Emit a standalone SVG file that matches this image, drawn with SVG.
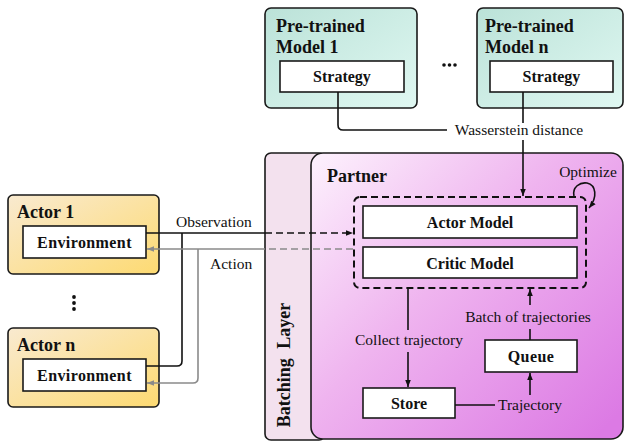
<svg xmlns="http://www.w3.org/2000/svg" width="625" height="442" viewBox="0 0 625 442">
<defs>
<linearGradient id="gTeal" x1="0" y1="0" x2="1" y2="1"><stop offset="0" stop-color="#bbe2d8"/><stop offset="1" stop-color="#e0f8f2"/></linearGradient>
<linearGradient id="gGold" x1="0" y1="0" x2="1" y2="1"><stop offset="0" stop-color="#f9ead0"/><stop offset="1" stop-color="#fdda72"/></linearGradient>
<linearGradient id="gPink" x1="0" y1="0" x2="1" y2="0.9"><stop offset="0" stop-color="#fdf2fd"/><stop offset="0.45" stop-color="#efb4ef"/><stop offset="1" stop-color="#dc7ae4"/></linearGradient>
<marker id="ab" viewBox="0 0 10 10" refX="10" refY="5" markerWidth="7" markerHeight="7" markerUnits="userSpaceOnUse" orient="auto"><path d="M0,1 L10,5 L0,9 z" fill="#111"/></marker>
<marker id="ag" viewBox="0 0 10 10" refX="10" refY="5" markerWidth="7" markerHeight="7" markerUnits="userSpaceOnUse" orient="auto"><path d="M0,1 L10,5 L0,9 z" fill="#8a8a8a"/></marker>
<style>
.box{stroke:#1a1a1a;stroke-width:1.6}
.wb{fill:#fff;stroke:#1a1a1a;stroke-width:1.6}
.b{font-family:"Liberation Serif","Times New Roman",serif;font-weight:bold;fill:#111}
.t{font-family:"Liberation Serif","Times New Roman",serif;font-size:15.5px;fill:#111}
.l{fill:none;stroke:#111;stroke-width:1.6}
.g{fill:none;stroke:#8a8a8a;stroke-width:1.6}
</style>
</defs>

<g id="batching-layer">
<rect x="265" y="153" width="60" height="287" rx="6" fill="#f3e1ee" class="box"/>
<text class="b" font-size="18" word-spacing="5" text-anchor="middle" transform="translate(290,365) rotate(-90)">Batching Layer</text>
</g>

<g id="partner">
<rect x="311" y="153" width="312" height="286" rx="12" fill="url(#gPink)" class="box"/>
<text class="b" font-size="18" x="327" y="182">Partner</text>
</g>

<g id="pretrained-1">
<rect x="265" y="8" width="152" height="100" rx="6" fill="url(#gTeal)" class="box"/>
<text class="b" font-size="18" x="276" y="32">Pre-trained</text>
<text class="b" font-size="18" x="276" y="53">Model 1</text>
<rect x="280" y="61" width="124" height="31" class="wb"/>
<text class="b" font-size="16" x="342" y="82" text-anchor="middle">Strategy</text>
</g>

<g id="ellipsis-models">
<circle cx="444" cy="65" r="1.8" fill="#111"/><circle cx="449.5" cy="65" r="1.8" fill="#111"/><circle cx="455" cy="65" r="1.8" fill="#111"/>
</g>

<g id="pretrained-n">
<rect x="477" y="8" width="146" height="100" rx="6" fill="url(#gTeal)" class="box"/>
<text class="b" font-size="18" x="485" y="32">Pre-trained</text>
<text class="b" font-size="18" x="485" y="53">Model n</text>
<rect x="490" y="61" width="123" height="31" class="wb"/>
<text class="b" font-size="16" x="551.5" y="82" text-anchor="middle">Strategy</text>
</g>

<g id="actor-1">
<rect x="8" y="195" width="151" height="79" rx="5" fill="url(#gGold)" class="box"/>
<text class="b" font-size="18" x="17" y="218">Actor 1</text>
<rect x="23" y="226" width="123" height="32" class="wb"/>
<text class="b" font-size="16" x="84.5" y="248" text-anchor="middle" letter-spacing="0.4">Environment</text>
</g>

<g id="ellipsis-actors">
<circle cx="74" cy="297" r="1.9" fill="#111"/><circle cx="74" cy="303" r="1.9" fill="#111"/><circle cx="74" cy="309" r="1.9" fill="#111"/>
</g>

<g id="actor-n">
<rect x="8" y="328" width="151" height="79" rx="5" fill="url(#gGold)" class="box"/>
<text class="b" font-size="18" x="17" y="351">Actor n</text>
<rect x="23" y="359" width="123" height="32" class="wb"/>
<text class="b" font-size="16" x="84.5" y="381" text-anchor="middle" letter-spacing="0.4">Environment</text>
</g>

<g id="model-group">
<rect x="354" y="197" width="232" height="91" rx="6" fill="none" stroke="#111" stroke-width="2" stroke-dasharray="7 4"/>
</g>

<g id="actor-model">
<rect x="363" y="206" width="214" height="32" class="wb"/>
<text class="b" font-size="16" x="470" y="228" text-anchor="middle">Actor Model</text>
</g>

<g id="critic-model">
<rect x="363" y="247" width="214" height="31" class="wb"/>
<text class="b" font-size="16" x="470" y="269" text-anchor="middle">Critic Model</text>
</g>

<g id="store">
<rect x="363" y="388" width="92" height="30" class="wb"/>
<text class="b" font-size="16" x="409" y="409" text-anchor="middle">Store</text>
</g>

<g id="queue">
<rect x="485" y="340" width="92" height="32" class="wb"/>
<text class="b" font-size="16" x="531" y="362" text-anchor="middle" letter-spacing="0.4">Queue</text>
</g>

<g id="connectors">
<!-- Wasserstein -->
<path class="l" d="M338 92 V125 Q338 130 343 130 H447"/>
<text class="t" x="519" y="135" text-anchor="middle">Wasserstein distance</text>
<path class="l" d="M523 92 V123"/>
<path class="l" d="M523 140 V196" marker-end="url(#ab)"/>
<!-- Optimize -->
<text class="t" x="588" y="177" text-anchor="middle">Optimize</text>
<path class="l" d="M574 196 C572 187 580 182 587 183 C596 185 598 197 589 208" marker-end="url(#ab)"/>
<!-- Observation -->
<path class="l" d="M146 233 H265"/>
<path class="l" d="M265 233 H353" stroke-dasharray="7 4" marker-end="url(#ab)"/>
<text class="t" x="176" y="227">Observation</text>
<path class="l" d="M182 233 V361 Q182 366 177 366 H146"/>
<!-- Action -->
<path class="g" d="M353 249 H265" stroke-dasharray="7 4"/>
<path class="g" d="M265 249 H147" marker-end="url(#ag)"/>
<text class="t" x="210" y="269">Action</text>
<path class="g" d="M198 249 V378 Q198 383 193 383 H147" marker-end="url(#ag)"/>
<!-- Collect trajectory -->
<path class="l" d="M408 288 V330"/>
<text class="t" x="409" y="345" text-anchor="middle">Collect trajectory</text>
<path class="l" d="M408 352 V387" marker-end="url(#ab)"/>
<!-- Trajectory -->
<path class="l" d="M455 405 H495"/>
<text class="t" x="498" y="410">Trajectory</text>
<path class="l" d="M530 395 V373" marker-end="url(#ab)"/>
<!-- Batch -->
<path class="l" d="M530 340 V329"/>
<text class="t" x="528" y="322" text-anchor="middle">Batch of trajectories</text>
<path class="l" d="M530 305 V289" marker-end="url(#ab)"/>
</g>
</svg>
